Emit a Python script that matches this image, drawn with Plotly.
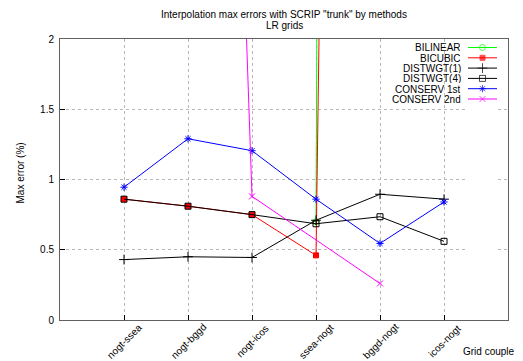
import plotly.graph_objects as go

categories = ["nogt-ssea", "nogt-bggd", "nogt-icos", "ssea-nogt", "bggd-nogt", "icos-nogt"]
bilinear = [None, None, None, 0.70, 100.0, None]
bicubic = [0.86, 0.81, 0.75, 0.46, 33.0, None]
distwgt1 = [0.43, 0.45, 0.445, 0.71, 0.895, 0.86]
distwgt4 = [0.86, 0.81, 0.75, 0.685, 0.735, 0.56]
conserv1 = [0.945, 1.29, 1.205, 0.86, 0.545, 0.84]
conserv2 = [None, 14.0, 0.88, None, 0.26, None]

series = [
    ("BILINEAR", bilinear, "#00ff00", "circle-open", 6, False),
    ("BICUBIC", bicubic, "#ff0000", "square", 5, False),
    ("DISTWGT(1)", distwgt1, "#000000", "cross-thin-open", 7, False),
    ("DISTWGT(4)", distwgt4, "#000000", "square-open", 6, False),
    ("CONSERV 1st", conserv1, "#0000ff", "asterisk-open", 6, False),
    ("CONSERV 2nd", conserv2, "#ff00ff", "x-thin-open", 6, True),
]

FONT = "Liberation Sans, Arial, sans-serif"
L, R, T, B = 60, 508, 39, 320
W, H = 523, 361
fig = go.Figure()

for name, vals, color, sym, size, gaps in series:
    fig.add_trace(go.Scatter(
        x=categories, y=vals, mode="lines+markers", name=name,
        line=dict(color=color, width=1),
        marker=dict(symbol=sym, size=size, color=color, line=dict(color=color, width=1)),
        connectgaps=gaps, showlegend=False,
    ))

# gnuplot-style key: label on the left, sample on the right
for i, (name, vals, color, sym, size, gaps) in enumerate(series):
    ypos = (B - (47.5 + 10.3 * i)) / (B - T)
    fig.add_trace(go.Scatter(
        x=[0.0, 0.5, 1.0], y=[ypos] * 3, mode="lines+markers",
        line=dict(color=color, width=1),
        marker=dict(symbol=sym, size=[0, size, 0], color=color, line=dict(color=color, width=1)),
        xaxis="x2", yaxis="y2", showlegend=False, hoverinfo="skip",
    ))
    fig.add_annotation(xref="paper", yref="paper", x=(463 - L) / (R - L), y=ypos, text=name,
                       showarrow=False, xanchor="right", yanchor="middle", height=10,
                       font=dict(family=FONT, size=10, color="#000"))

# x tick labels centred on their ticks, gnuplot style
for c in categories:
    fig.add_annotation(xref="x", yref="paper", x=c, y=0, yshift=-21, text=c,
                       textangle=-45, showarrow=False, xanchor="center", yanchor="middle",
                       font=dict(family=FONT, size=10, color="#000"))

fig.update_layout(
    width=W, height=H,
    margin=dict(l=L, r=W - R, t=T, b=H - B, autoexpand=False),
    paper_bgcolor="white", plot_bgcolor="white",
    font=dict(family=FONT, size=10, color="#000"),
    xaxis=dict(type="category", range=[-1, 6], showticklabels=False, automargin=False,
               showgrid=True, gridcolor="#b8b8b8", griddash="dot", gridwidth=1,
               showline=True, linecolor="#606060", linewidth=1, mirror=True,
               ticks="inside", ticklen=5, tickcolor="#000", zeroline=False),
    yaxis=dict(range=[0, 2], tickvals=[0, 0.5, 1, 1.5, 2], ticktext=["0", "0.5", "1", "1.5", "2"],
               automargin=False,
               showgrid=True, gridcolor="#b8b8b8", griddash="dot", gridwidth=1,
               showline=True, linecolor="#606060", linewidth=1, mirror=True,
               ticks="inside", ticklen=5, tickcolor="#000", zeroline=False,
               ticklabelstandoff=3, tickfont=dict(family=FONT, size=10)),
    xaxis2=dict(domain=[(468 - L) / (R - L), (497 - L) / (R - L)], range=[0, 1],
                visible=False, anchor="y2", automargin=False),
    yaxis2=dict(domain=[0, 1], range=[0, 1], visible=False, anchor="x2", automargin=False),
)

fig.add_annotation(xref="paper", yref="paper", x=0.5, y=1, yshift=39 - 14,
                   text="Interpolation max errors with SCRIP \"trunk\" by methods",
                   showarrow=False, xanchor="center", yanchor="middle",
                   font=dict(family=FONT, size=10, color="#000"))
fig.add_annotation(xref="paper", yref="paper", x=0.5, y=1, yshift=39 - 25,
                   text="LR grids", showarrow=False, xanchor="center", yanchor="middle",
                   font=dict(family=FONT, size=10, color="#000"))
fig.add_annotation(xref="paper", yref="paper", x=0, y=0.5, xshift=-40, yshift=6,
                   text="Max error (%)", textangle=-90, showarrow=False,
                   xanchor="center", yanchor="middle",
                   font=dict(family=FONT, size=10, color="#000"))
fig.add_annotation(xref="paper", yref="paper", x=1, y=0, xshift=9, yshift=-31,
                   xanchor="right", yanchor="middle",
                   text="Grid couple", showarrow=False,
                   font=dict(family=FONT, size=10, color="#000"))

fig.write_html("out.html", config={"displayModeBar": False},
               post_script="document.body.style.margin='0';document.body.style.overflow='hidden';")
